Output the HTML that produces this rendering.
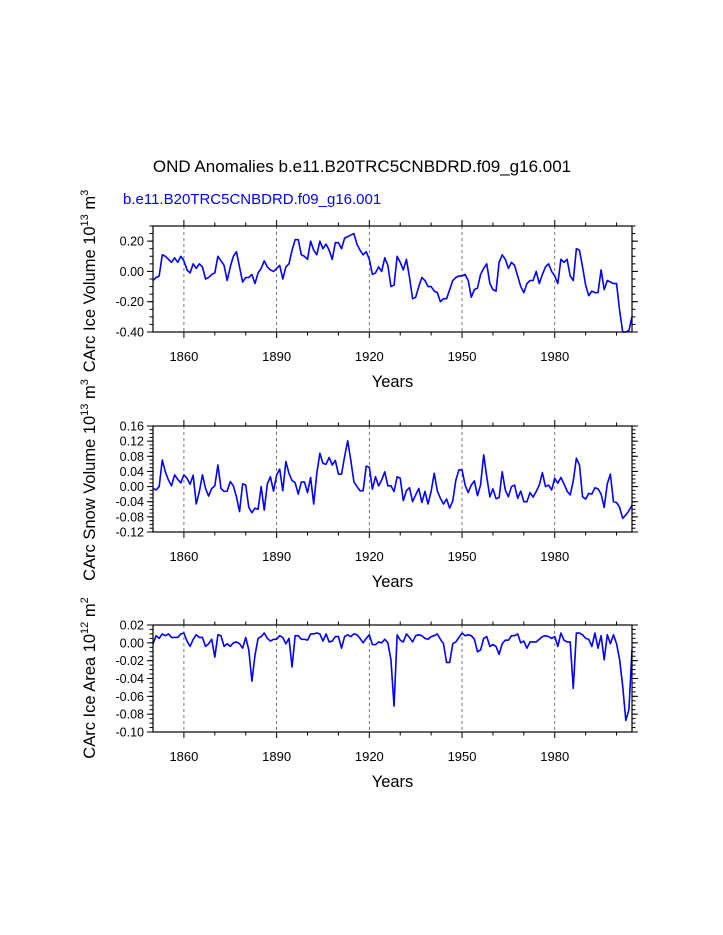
<!DOCTYPE html>
<html><head><meta charset="utf-8"><style>
html,body{margin:0;padding:0;background:#fff;}
svg{display:block;font-family:"Liberation Sans",Arial,sans-serif;}
</style></head><body>
<svg id="chart" width="723" height="935" viewBox="0 0 723 935">
<text x="362" y="172" text-anchor="middle" font-size="17">OND Anomalies b.e11.B20TRC5CNBDRD.f09_g16.001</text>
<text x="123" y="204" font-size="15" fill="#0000ff">b.e11.B20TRC5CNBDRD.f09_g16.001</text>
<g id="plots"></g>
</svg>
<script>
const startYear = 1850;
const endYear = 2005;
const xTickYears = [1860, 1890, 1920, 1950, 1980];
const iceVolume = [-0.06,-0.04,-0.03,0.11,0.10,0.08,0.06,0.09,0.06,0.10,
0.07,0.01,-0.01,0.05,0.02,0.05,0.03,-0.05,-0.04,-0.02,
-0.01,0.10,0.07,0.04,-0.06,0.03,0.10,0.13,0.03,-0.07,
-0.04,-0.04,-0.02,-0.08,-0.01,0.02,0.07,0.03,0.01,0.00,
0.02,0.04,-0.05,0.03,0.05,0.14,0.21,0.21,0.11,0.10,
0.08,0.20,0.14,0.11,0.20,0.15,0.18,0.14,0.08,0.19,
0.19,0.15,0.22,0.23,0.24,0.25,0.18,0.14,0.11,0.13,
0.08,-0.02,-0.01,0.03,0.00,0.09,
0.04,-0.10,-0.09,0.10,0.06,0.01,0.08,-0.04,-0.18,-0.17,-0.10,-0.04,-0.06,-0.10,-0.10,-0.13,-0.14,-0.20,-0.18,-0.18,
-0.12,-0.06,-0.04,-0.03,-0.03,-0.02,-0.06,-0.17,-0.12,-0.11,-0.02,0.02,0.05,-0.08,-0.12,-0.13,0.06,0.11,0.08,0.02,
0.06,0.04,-0.03,-0.10,-0.14,-0.08,-0.06,-0.06,0.00,-0.08,-0.02,0.03,0.05,0.00,-0.03,-0.08,0.08,0.06,0.08,-0.03,
-0.06,0.15,0.14,0.03,-0.09,-0.16,-0.13,-0.14,-0.14,0.01,-0.12,-0.06,-0.07,-0.08,-0.08,-0.26,-0.40,-0.40,-0.39,-0.30];
const snowVolume = [-0.005,-0.009,0.000,0.070,0.039,0.017,0.002,0.031,0.019,0.010,0.031,0.022,0.006,0.030,-0.046,-0.013,0.031,-0.005,-0.025,-0.005,
0.002,0.057,-0.005,-0.013,-0.012,0.013,0.002,-0.027,-0.066,0.007,0.004,-0.055,-0.069,-0.057,-0.060,0.000,-0.062,0.007,0.026,-0.012,
0.031,0.046,-0.011,0.066,0.035,0.016,0.010,-0.020,0.012,0.012,-0.016,0.024,-0.046,0.035,0.088,0.061,0.059,0.077,0.057,0.069,
0.033,0.033,0.079,0.121,0.070,0.013,0.000,-0.011,-0.011,0.054,0.051,-0.007,0.026,0.002,0.017,0.039,0.002,
0.002,-0.013,0.026,0.022,-0.037,-0.011,-0.003,-0.040,-0.022,-0.005,-0.042,-0.013,-0.046,-0.013,0.035,-0.011,-0.031,-0.046,-0.033,-0.057,
-0.038,0.017,0.044,0.044,0.004,-0.016,0.004,0.015,-0.024,0.004,0.084,0.026,-0.027,-0.006,-0.032,-0.029,0.039,-0.009,-0.027,0.000,
0.004,-0.031,-0.012,-0.040,-0.040,-0.016,-0.028,-0.013,0.004,0.037,0.000,0.004,-0.009,0.022,0.009,0.024,0.007,-0.012,-0.022,0.015,
0.075,0.057,-0.027,-0.033,-0.018,-0.020,-0.003,-0.006,-0.020,-0.055,0.007,0.033,-0.040,-0.042,-0.055,-0.084,-0.075,-0.064,-0.049];
const iceArea = [-0.001,0.008,0.005,0.010,0.008,0.010,0.006,0.006,0.006,0.010,0.011,0.002,-0.004,0.004,0.009,0.006,0.006,-0.004,-0.001,0.004,
-0.016,0.009,0.008,-0.004,-0.001,-0.004,0.000,0.001,-0.001,-0.006,0.006,-0.008,-0.043,-0.014,0.005,0.007,0.011,0.005,0.002,0.004,
0.004,0.008,0.006,-0.001,0.005,-0.027,0.008,0.008,0.004,0.004,0.003,0.010,0.010,0.011,0.010,0.002,0.010,0.001,0.002,0.007,
0.007,-0.006,0.007,0.009,0.007,0.010,0.009,0.005,0.000,0.005,0.009,-0.002,-0.002,0.001,0.000,0.004,
0.000,-0.019,-0.071,0.009,0.003,0.001,0.010,0.006,0.001,0.008,0.009,0.008,0.005,0.004,0.007,0.008,0.010,0.004,-0.001,-0.022,
-0.022,-0.001,0.001,0.006,0.011,0.008,0.009,0.008,0.004,-0.010,-0.008,0.005,0.007,-0.004,-0.002,-0.004,-0.013,-0.001,0.003,0.003,
0.008,0.008,0.010,0.000,0.002,-0.006,0.001,0.001,0.001,0.004,0.007,0.008,0.007,0.005,0.007,-0.004,0.011,0.003,0.001,0.001,
-0.051,0.011,0.011,0.009,0.005,0.004,-0.004,0.011,-0.006,0.008,-0.019,0.009,-0.001,0.009,-0.001,-0.019,-0.049,-0.087,-0.075,-0.008];
const yTicks1 = [0.20, 0.00, -0.20, -0.40];
const yTicks2 = [0.16, 0.12, 0.08, 0.04, 0.00, -0.04, -0.08, -0.12];
const yTicks3 = [0.02, 0.00, -0.02, -0.04, -0.06, -0.08, -0.10];

const NS = 'http://www.w3.org/2000/svg';
const root = document.getElementById('plots');
const X0 = 153, X1 = 632;
function xs(yr){ return X0 + (yr - startYear) / (endYear - startYear) * (X1 - X0); }
function mk(tag, attrs, parent){ const e = document.createElementNS(NS, tag); for (const k in attrs) e.setAttribute(k, attrs[k]); parent.appendChild(e); return e; }

function panel(cfg){
  const g = mk('g', {}, root);
  
  
  const ys = v => cfg.top + (cfg.ymax - v) / (cfg.ymax - cfg.ymin) * (cfg.bot - cfg.top);
  xTickYears.forEach(yr => {
    const l = mk('line', {x1: xs(yr), x2: xs(yr), y1: cfg.top, y2: cfg.bot, stroke: '#555', 'stroke-width': 0.8, 'stroke-dasharray': '3,3'}, g);
    
    
  });
  for (let yr = 1860; yr <= endYear; yr += 10) {
    const major = (yr - 1860) % 30 === 0;
    const len = major ? 6 : 3.5;
    mk('line', {x1: xs(yr), x2: xs(yr), y1: cfg.bot, y2: cfg.bot + len, stroke: '#000', 'stroke-width': 1}, g);
    mk('line', {x1: xs(yr), x2: xs(yr), y1: cfg.top, y2: cfg.top - len, stroke: '#000', 'stroke-width': 1}, g);
  }
  xTickYears.forEach(yr => {
    const t = mk('text', {x: xs(yr), y: cfg.bot + 29, 'text-anchor': 'middle', 'font-size': 13}, g);
    t.textContent = yr;
    
    
  });
  const nMinor = Math.round((cfg.ymax - cfg.ymin) / cfg.minor);
  for (let k = 0; k <= nMinor; k++) {
    const v = cfg.ymin + k * cfg.minor;
    const y = ys(v);
    mk('line', {x1: X0, x2: X0 - 3.5, y1: y, y2: y, stroke: '#000', 'stroke-width': 1}, g);
    mk('line', {x1: X1, x2: X1 + 3.5, y1: y, y2: y, stroke: '#000', 'stroke-width': 1}, g);
  }
  cfg.ticks.forEach(v => {
    const y = ys(v);
    mk('line', {x1: X0, x2: X0 - 6, y1: y, y2: y, stroke: '#000', 'stroke-width': 1}, g);
    mk('line', {x1: X1, x2: X1 + 6, y1: y, y2: y, stroke: '#000', 'stroke-width': 1}, g);
    const t = mk('text', {x: X0 - 9, y: y + 4.5, 'text-anchor': 'end', 'font-size': 12.5}, g);
    t.textContent = v.toFixed(2);
    
    
  });
  const pts = cfg.data.map((v, i) => xs(startYear + i).toFixed(2) + ',' + ys(v).toFixed(2)).join(' ');
  const line = mk('polyline', {points: pts, fill: 'none', stroke: '#0000ff', 'stroke-width': 1.6, 'stroke-linejoin': 'round'}, g);
  
  
  const fr = mk('rect', {x: X0, y: cfg.top, width: X1 - X0, height: cfg.bot - cfg.top, fill: 'none', stroke: '#000', 'stroke-width': 1.2}, g);
  
  
  const xt = mk('text', {x: (X0 + X1) / 2, y: cfg.bot + 55, 'text-anchor': 'middle', 'font-size': 16.5}, g);
  xt.textContent = 'Years';
  
  
  const yt = mk('text', {x: 0, y: 0, 'text-anchor': 'middle', 'font-size': 16.5, transform: 'translate(95,' + cfg.ytc + ') rotate(-90)'}, g);
  yt.innerHTML = cfg.ytitle;
  
  
}

panel({name: 'ice-volume-panel', top: 226, bot: 332, ymin: -0.40, ymax: 0.30, minor: 0.05, ticks: yTicks1, data: iceVolume, ytc: 281,
  ytitle: 'CArc Ice Volume 10<tspan dy="-7" font-size="11">13</tspan><tspan dy="7"> m</tspan><tspan dy="-7" font-size="11">3</tspan>'});
panel({name: 'snow-volume-panel', top: 426, bot: 532, ymin: -0.12, ymax: 0.16, minor: 0.01, ticks: yTicks2, data: snowVolume, ytc: 480,
  ytitle: 'CArc Snow Volume 10<tspan dy="-7" font-size="11">13</tspan><tspan dy="7"> m</tspan><tspan dy="-7" font-size="11">3</tspan>'});
panel({name: 'ice-area-panel', top: 625, bot: 732, ymin: -0.10, ymax: 0.02, minor: 0.005, ticks: yTicks3, data: iceArea, ytc: 678,
  ytitle: 'CArc Ice Area 10<tspan dy="-7" font-size="11">12</tspan><tspan dy="7"> m</tspan><tspan dy="-7" font-size="11">2</tspan>'});
</script>
</body></html>
